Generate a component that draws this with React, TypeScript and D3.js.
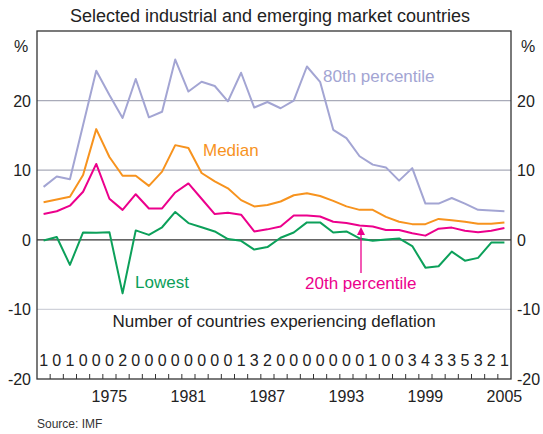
import { useEffect, useRef } from 'react';
import * as d3 from 'd3';

const years = d3.range(1970, 2006);
const yearLabels = [1975, 1981, 1987, 1993, 1999, 2005];
const yTicks = [-20, -10, 0, 10, 20];

const p80 = [7.6, 9.1, 8.7, 16.5, 24.3, 20.8, 17.5, 23.1, 17.6, 18.4, 25.9, 21.3, 22.7, 22.1, 19.9, 24.0, 19.0, 19.8,
  18.9, 20.0, 24.9, 22.7, 15.8, 14.6, 12.0, 10.8, 10.4, 8.5, 10.3, 5.2, 5.2, 6.0, 5.2, 4.3, 4.2, 4.1];
const median = [5.4, 5.8, 6.2, 9.3, 15.9, 11.9, 9.2, 9.2, 7.75, 9.8, 13.6, 13.2, 9.6, 8.4, 7.4, 5.7, 4.8, 5.0,
  5.5, 6.4, 6.7, 6.3, 5.6, 4.8, 4.3, 4.3, 3.3, 2.6, 2.25, 2.25, 3.0, 2.8, 2.6, 2.3, 2.3, 2.5];
const p20 = [3.7, 4.1, 4.9, 6.9, 10.9, 5.9, 4.3, 6.55, 4.5, 4.5, 6.8, 8.1, 5.9, 3.7, 3.9, 3.6, 1.2, 1.5,
  1.9, 3.5, 3.5, 3.35, 2.6, 2.4, 2.05, 1.9, 1.4, 1.4, 0.95, 0.6, 1.6, 1.75, 1.3, 1.1, 1.3, 1.7];
const lowest = [-0.1, 0.4, -3.6, 1.05, 1.0, 1.1, -7.7, 1.35, 0.7, 1.8, 4.0, 2.4, 1.8, 1.2, 0.1, -0.15, -1.4, -1.05,
  0.3, 1.05, 2.5, 2.5, 1.05, 1.2, 0.2, -0.15, 0.05, 0.2, -0.9, -4.0, -3.8, -1.7, -3.0, -2.6, -0.4, -0.4];
const deflationCount = [1, 0, 1, 0, 0, 0, 2, 0, 0, 0, 0, 0, 0, 0, 0, 1, 3, 2, 0, 0, 0, 0, 0, 0, 0, 1, 0, 0, 3, 4, 3, 3, 5, 3, 2, 1];

const series = [
  { name: '80th percentile', values: p80, color: '#a3a5d3' },
  { name: 'Median', values: median, color: '#f7931e' },
  { name: '20th percentile', values: p20, color: '#ec008c' },
  { name: 'Lowest', values: lowest, color: '#0ca05a' },
];

const App = () => {
  const svgRef = useRef<SVGSVGElement | null>(null);

  useEffect(() => {
    const width = 543;
    const height = 434;
    const margin = { top: 31, right: 32, bottom: 55, left: 37 };
    const font = '"Liberation Sans", Arial, sans-serif';

    const svg = d3.select(svgRef.current);
    svg.selectAll('*').remove();
    svg.attr('width', width).attr('height', height).style('font-family', font);

    const x = d3.scaleBand<number>()
      .domain(years)
      .range([margin.left, width - margin.right]);

    const y = d3.scaleLinear()
      .domain([-20, 30])
      .range([height - margin.bottom, margin.top]);

    const xc = (d: number) => (x(d) as number) + x.bandwidth() / 2;

    // Gridlines
    svg.append('g')
      .selectAll('line')
      .data([-10, 10, 20])
      .join('line')
      .attr('x1', margin.left)
      .attr('x2', width - margin.right)
      .attr('y1', d => y(d))
      .attr('y2', d => y(d))
      .attr('stroke', d => d < 0 ? '#d0d2da' : '#a9abb9')
      .attr('stroke-width', 1.2);

    // Zero line
    svg.append('line')
      .attr('x1', margin.left).attr('x2', width - margin.right)
      .attr('y1', y(0)).attr('y2', y(0))
      .attr('stroke', '#333').attr('stroke-width', 1.3);

    // Frame
    svg.append('rect')
      .attr('x', margin.left).attr('y', y(30))
      .attr('width', width - margin.left - margin.right)
      .attr('height', y(-20) - y(30))
      .attr('fill', 'none').attr('stroke', '#333').attr('stroke-width', 1.3);

    // Bottom ticks between years
    svg.append('g')
      .selectAll('line')
      .data(years.slice(1))
      .join('line')
      .attr('x1', d => x(d) as number)
      .attr('x2', d => x(d) as number)
      .attr('y1', y(-20))
      .attr('y2', y(-20) - 5)
      .attr('stroke', '#333');

    // Y axis labels
    const yl = svg.append('g').style('font-size', '16px').attr('fill', '#222');
    yl.selectAll('text.l')
      .data(yTicks)
      .join('text')
      .attr('class', 'l')
      .attr('x', margin.left - 6)
      .attr('y', d => y(d) + 6)
      .attr('text-anchor', 'end')
      .text(d => d);
    yl.selectAll('text.r')
      .data(yTicks)
      .join('text')
      .attr('class', 'r')
      .attr('x', width - margin.right + 6)
      .attr('y', d => y(d) + 6)
      .attr('text-anchor', 'start')
      .text(d => d);
    yl.append('text').attr('x', 21).attr('y', 52).attr('text-anchor', 'middle').text('%');
    yl.append('text').attr('x', 528).attr('y', 52).attr('text-anchor', 'middle').text('%');

    // X labels
    svg.append('g')
      .selectAll('text')
      .data(yearLabels)
      .join('text')
      .attr('x', d => xc(d))
      .attr('y', 402)
      .attr('text-anchor', 'middle')
      .style('font-size', '16px')
      .attr('fill', '#222')
      .text(d => d);

    // Lines
    const line = d3.line<number>()
      .x((_, i) => xc(years[i]))
      .y(d => y(d));

    svg.append('g')
      .selectAll('path')
      .data(series)
      .join('path')
      .attr('d', d => line(d.values))
      .attr('fill', 'none')
      .attr('stroke', d => d.color)
      .attr('stroke-width', 2)
      .attr('stroke-linejoin', 'round');

    // Series labels
    const lab = svg.append('g').style('font-size', '17px');
    lab.append('text').attr('x', 323).attr('y', 82).attr('fill', '#a3a5d3').text('80th percentile');
    lab.append('text').attr('x', 203).attr('y', 156).attr('fill', '#f7931e').text('Median');
    lab.append('text').attr('x', 135).attr('y', 288).attr('fill', '#0ca05a').text('Lowest');
    lab.append('text').attr('x', 305).attr('y', 289).attr('fill', '#ec008c').text('20th percentile');

    // Arrow for 20th percentile
    svg.append('line')
      .attr('x1', 361).attr('x2', 361)
      .attr('y1', 273).attr('y2', 233)
      .attr('stroke', '#ec008c').attr('stroke-width', 1.3);
    svg.append('path')
      .attr('d', 'M357,235 L361,227 L365,235 Z')
      .attr('fill', '#ec008c');

    // Deflation counts
    svg.append('text')
      .attr('x', (margin.left + width - margin.right) / 2)
      .attr('y', 327)
      .attr('text-anchor', 'middle')
      .style('font-size', '17px')
      .attr('fill', '#222')
      .text('Number of countries experiencing deflation');

    svg.append('g')
      .selectAll('text')
      .data(deflationCount)
      .join('text')
      .attr('x', (_, i) => xc(years[i]))
      .attr('y', 366)
      .attr('text-anchor', 'middle')
      .style('font-size', '16px')
      .attr('fill', '#222')
      .text(d => d);

    // Titles
    svg.append('text')
      .attr('x', 270).attr('y', 22)
      .attr('text-anchor', 'middle')
      .style('font-size', '18px')
      .attr('fill', '#222')
      .text('Selected industrial and emerging market countries');

    svg.append('text')
      .attr('x', 37).attr('y', 428)
      .style('font-size', '12px')
      .attr('fill', '#333')
      .text('Source: IMF');
  }, []);

  return (
    <div style={{ position: 'absolute', left: 0, top: 0, background: '#fff' }}>
      <svg ref={svgRef} />
    </div>
  );
};

export default App;
